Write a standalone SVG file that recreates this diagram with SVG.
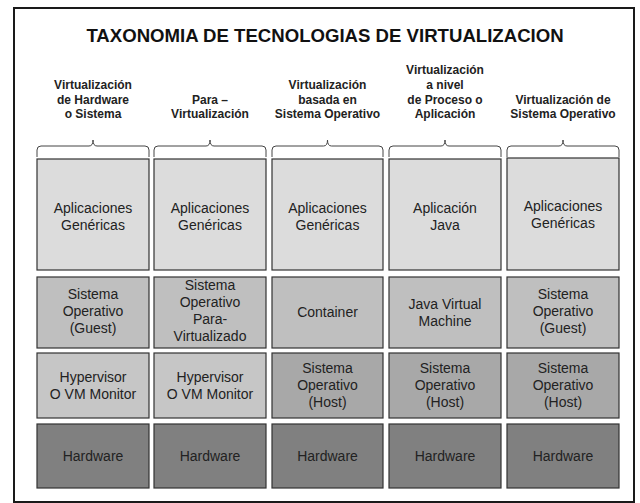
<svg xmlns="http://www.w3.org/2000/svg" width="640" height="503" viewBox="0 0 640 503">
<style>
.frame{fill:#fff;stroke:#1a1a1a;stroke-width:2}
.title{font-family:"Liberation Sans",Arial,sans-serif;font-weight:bold;font-size:18.6px;fill:#111;text-anchor:middle}
.hdr{font-family:"Liberation Sans",Arial,sans-serif;font-weight:bold;font-size:12px;fill:#222;text-anchor:middle}
.lbl{font-family:"Liberation Sans",Arial,sans-serif;font-size:14px;fill:#222;text-anchor:middle}
.box{stroke:#333;stroke-width:1.2}
.r1{fill:#dcdcdc}
.r2{fill:#bfbfbf}
.hv{fill:#c6c6c6}
.os{fill:#a8a8a8}
.hw{fill:#808080}
.brace{fill:none;stroke:#444;stroke-width:1}
</style>
<rect class="frame" x="14" y="8" width="620" height="494"/>
<text class="title" x="325" y="42">TAXONOMIA DE TECNOLOGIAS DE VIRTUALIZACION</text>

<g id="headers">
<text class="hdr" x="93"><tspan x="93" y="89">Virtualización</tspan><tspan x="93" y="103.5">de Hardware</tspan><tspan x="93" y="118">o Sistema</tspan></text>
<text class="hdr" x="210"><tspan x="210" y="103.5">Para –</tspan><tspan x="210" y="118">Virtualización</tspan></text>
<text class="hdr" x="327.5"><tspan x="327.5" y="89">Virtualización</tspan><tspan x="327.5" y="103.5">basada en</tspan><tspan x="327.5" y="118">Sistema Operativo</tspan></text>
<text class="hdr" x="445"><tspan x="445" y="74">Virtualización</tspan><tspan x="445" y="88.5">a nivel</tspan><tspan x="445" y="103.5">de Proceso o</tspan><tspan x="445" y="118">Aplicación</tspan></text>
<text class="hdr" x="563"><tspan x="563" y="103.5">Virtualización de</tspan><tspan x="563" y="118">Sistema Operativo</tspan></text>
</g>

<g id="connectors">
<path class="brace" d="M37,157 L37,150 Q37,146 41,146 L89,146 Q93,146 93,140 Q93,146 97,146 L145,146 Q149,146 149,150 L149,157"/>
<path class="brace" d="M154,157 L154,150 Q154,146 158,146 L206,146 Q210,146 210,140 Q210,146 214,146 L262,146 Q266,146 266,150 L266,157"/>
<path class="brace" d="M272,157 L272,150 Q272,146 276,146 L323.5,146 Q327.5,146 327.5,140 Q327.5,146 331.5,146 L379,146 Q383,146 383,150 L383,157"/>
<path class="brace" d="M389,157 L389,150 Q389,146 393,146 L441,146 Q445,146 445,140 Q445,146 449,146 L497,146 Q501,146 501,150 L501,157"/>
<path class="brace" d="M507,157 L507,150 Q507,146 511,146 L559,146 Q563,146 563,140 Q563,146 567,146 L615,146 Q619,146 619,150 L619,157"/>
</g>

<!-- Column 1 -->
<g id="c1-app"><rect class="box r1" x="37" y="159" width="112" height="111"/><text class="lbl"><tspan x="93" y="213">Aplicaciones</tspan><tspan x="93" y="230">Genéricas</tspan></text></g>
<g id="c1-os"><rect class="box r2" x="37" y="277" width="112" height="71"/><text class="lbl"><tspan x="93" y="299">Sistema</tspan><tspan x="93" y="316">Operativo</tspan><tspan x="93" y="333">(Guest)</tspan></text></g>
<g id="c1-hv"><rect class="box hv" x="37" y="353" width="112" height="65"/><text class="lbl"><tspan x="93" y="382">Hypervisor</tspan><tspan x="93" y="399">O VM Monitor</tspan></text></g>
<g id="c1-hw"><rect class="box hw" x="37" y="424" width="112" height="64"/><text class="lbl" x="93" y="461">Hardware</text></g>

<!-- Column 2 -->
<g id="c2-app"><rect class="box r1" x="154" y="159" width="112" height="111"/><text class="lbl"><tspan x="210" y="213">Aplicaciones</tspan><tspan x="210" y="230">Genéricas</tspan></text></g>
<g id="c2-os"><rect class="box r2" x="154" y="277" width="112" height="71"/><text class="lbl"><tspan x="210" y="290">Sistema</tspan><tspan x="210" y="307">Operativo</tspan><tspan x="210" y="324">Para-</tspan><tspan x="210" y="341">Virtualizado</tspan></text></g>
<g id="c2-hv"><rect class="box hv" x="154" y="353" width="112" height="65"/><text class="lbl"><tspan x="210" y="382">Hypervisor</tspan><tspan x="210" y="399">O VM Monitor</tspan></text></g>
<g id="c2-hw"><rect class="box hw" x="154" y="424" width="112" height="64"/><text class="lbl" x="210" y="461">Hardware</text></g>

<!-- Column 3 -->
<g id="c3-app"><rect class="box r1" x="272" y="159" width="111" height="111"/><text class="lbl"><tspan x="327.5" y="213">Aplicaciones</tspan><tspan x="327.5" y="230">Genéricas</tspan></text></g>
<g id="c3-ct"><rect class="box r2" x="272" y="277" width="111" height="71"/><text class="lbl" x="327.5" y="317">Container</text></g>
<g id="c3-os"><rect class="box os" x="272" y="353" width="111" height="65"/><text class="lbl"><tspan x="327.5" y="373">Sistema</tspan><tspan x="327.5" y="390">Operativo</tspan><tspan x="327.5" y="407">(Host)</tspan></text></g>
<g id="c3-hw"><rect class="box hw" x="272" y="424" width="111" height="64"/><text class="lbl" x="327.5" y="461">Hardware</text></g>

<!-- Column 4 -->
<g id="c4-app"><rect class="box r1" x="389" y="159" width="112" height="111"/><text class="lbl"><tspan x="445" y="213">Aplicación</tspan><tspan x="445" y="230">Java</tspan></text></g>
<g id="c4-jvm"><rect class="box r2" x="389" y="277" width="112" height="71"/><text class="lbl"><tspan x="445" y="309">Java Virtual</tspan><tspan x="445" y="326">Machine</tspan></text></g>
<g id="c4-os"><rect class="box os" x="389" y="353" width="112" height="65"/><text class="lbl"><tspan x="445" y="373">Sistema</tspan><tspan x="445" y="390">Operativo</tspan><tspan x="445" y="407">(Host)</tspan></text></g>
<g id="c4-hw"><rect class="box hw" x="389" y="424" width="112" height="64"/><text class="lbl" x="445" y="461">Hardware</text></g>

<!-- Column 5 -->
<g id="c5-app"><rect class="box r1" x="507" y="158" width="112" height="112"/><text class="lbl"><tspan x="563" y="211">Aplicaciones</tspan><tspan x="563" y="228">Genéricas</tspan></text></g>
<g id="c5-os"><rect class="box r2" x="507" y="277" width="112" height="71"/><text class="lbl"><tspan x="563" y="299">Sistema</tspan><tspan x="563" y="316">Operativo</tspan><tspan x="563" y="333">(Guest)</tspan></text></g>
<g id="c5-host"><rect class="box os" x="507" y="353" width="112" height="65"/><text class="lbl"><tspan x="563" y="373">Sistema</tspan><tspan x="563" y="390">Operativo</tspan><tspan x="563" y="407">(Host)</tspan></text></g>
<g id="c5-hw"><rect class="box hw" x="507" y="424" width="112" height="64"/><text class="lbl" x="563" y="461">Hardware</text></g>
</svg>
